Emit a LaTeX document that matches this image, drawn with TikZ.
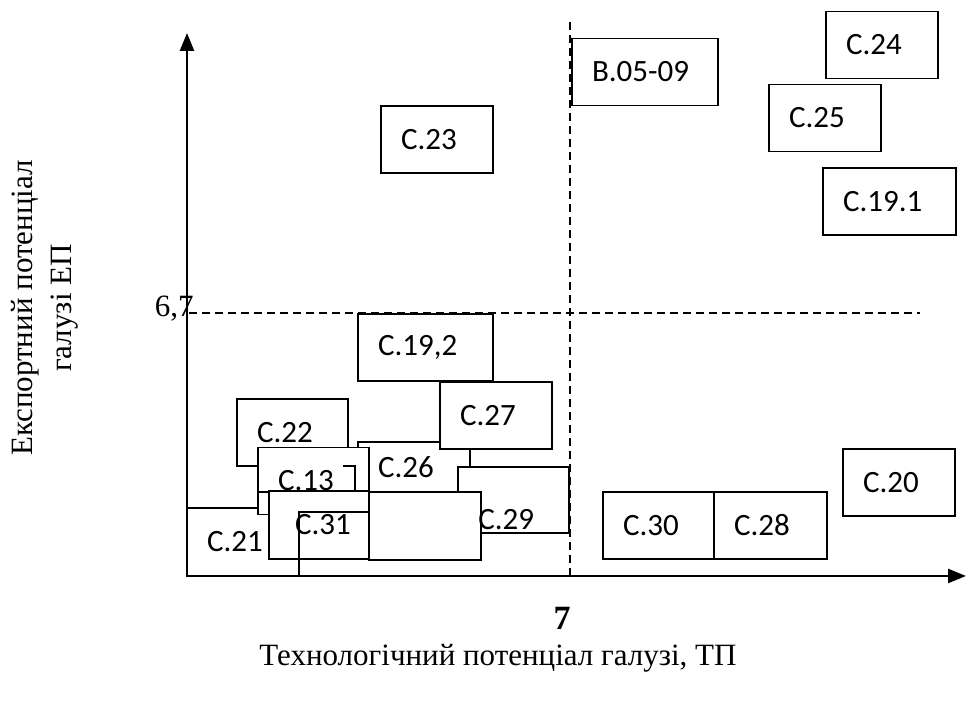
\documentclass[tikz,border=0pt]{standalone}
\usepackage{fontspec}
\setmainfont{Liberation Serif}
\newfontfamily\calibri{Carlito}
\usepackage{tikz}
\usetikzlibrary{arrows.meta, positioning}

\begin{document}
\begin{tikzpicture}[
    x=0.5pt, y=-0.5pt,
    sector/.style={rectangle, draw, fill=white, line width=0.65pt, minimum height=33.5pt, text width=#1, inner xsep=10pt, align=left, font=\calibri\fontsize{15.5}{18}\selectfont},
    sector/.default=36pt,
    plain/.style={rectangle, draw, fill=white, line width=0.65pt, inner sep=0pt},
    label text/.style={font=\calibri\fontsize{15.5}{18}\selectfont, inner sep=0pt},
    axis/.style={line width=1.25pt, -{Triangle[width=7pt,length=9pt]}},
    level/.style={line width=0.75pt, dash pattern=on 4pt off 2.5pt},
    caption/.style={font=\fontsize{15.5}{19.5}\selectfont, align=center}
]
    \useasboundingbox (0,0) rectangle (966,704);

    % Axes
    \coordinate (origin) at (187,576);
    \coordinate (ytop) at (187,33);
    \coordinate (xend) at (966,576);

    % Threshold lines
    \coordinate (hl) at (189,313);
    \coordinate (hr) at (920,313);
    \coordinate (vt) at (570,22);
    \coordinate (vb) at (570,576);
    \draw[level] (hl) -- (hr);
    \draw[level] (vt) -- (vb);

    % Upper right quadrant
    \node[sector] (c24) at (882,45) {C.24};
    \node[sector=53pt] (b0509) at (645,72) {B.05-09};
    \node[sector] (c25) at (825,118) {C.25};
    \node[sector=46.5pt] (c191) at (889.5,201.5) {C.19.1};

    % Upper left quadrant
    \node[sector] (c23) at (437,139.5) {C.23};

    % Lower right quadrant
    \node[sector] (c20) at (899,482.5) {C.20};
    \node[sector=35.5pt] (c30) at (658.5,525.5) {C.30};
    \node[sector=36.5pt] (c28) at (770.5,525.5) {C.28};

    % Lower left quadrant
    \node[sector=47.5pt] (c192) at (425.5,347.5) {C.19,2};
    \node[sector, minimum height=34pt] (c21) at (243,542) {C.21};
    \node[sector=35.5pt] (c22) at (292.5,432.5) {C.22};
    \node[sector, minimum height=25pt] (c26) at (414,467) {C.26};
    \node[sector] (c27) at (496,415.5) {C.27};
    \node[plain, minimum width=55.5pt, minimum height=33pt] (c29box) at (513.5,500) {};
    \node[sector=35.5pt] (c13) at (313.5,481) {C.13};
    \coordinate (c13a) at (343,466);
    \coordinate (c13b) at (258,492);
    \draw[line width=0.65pt] (c13a) -| (355,492) -- (c13b);
    \node[sector=24pt, inner xsep=13pt, minimum height=34pt] (c31) at (319,525) {C.31};
    \node[plain, minimum width=56pt, minimum height=34pt] (blank) at (425,526) {};
    \coordinate (c31a) at (299,576);
    \coordinate (c31b) at (369,512);
    \draw[line width=0.65pt] (c31a) |- (c31b);
    \node[label text, anchor=west] (c29) at (478,520) {C.29};

    % Axes on top
    \draw[axis] (origin) -- (ytop);
    \draw[axis] (origin) -- (xend);

    % Axis labels
    \node[caption, anchor=base east, inner sep=0pt] (ey) at (194,317) {6,7};
    \node[caption, font=\fontsize{17}{20}\selectfont\bfseries] (tx) at (562,618) {7};
    \node[caption] (xlabel) at (498,658) {Технологічний потенціал галузі, ТП};
    \node[caption, rotate=90] (ylabel) at (45,308) {Експортний потенціал\\галузі ЕП};
\end{tikzpicture}
\end{document}
